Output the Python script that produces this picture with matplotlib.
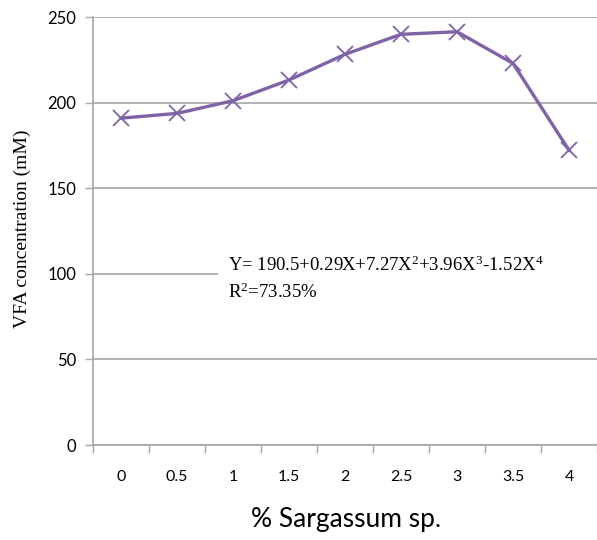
import matplotlib
matplotlib.use("Agg")
import matplotlib.pyplot as plt
from matplotlib.patches import Rectangle

# data
categories = ["0", "0.5", "1", "1.5", "2", "2.5", "3", "3.5", "4"]
vfa = [190.9, 193.7, 201.1, 213.2, 228.2, 239.9, 241.4, 222.9, 172.2]
yticks = [0, 50, 100, 150, 200, 250]

plt.rcParams['mathtext.fontset'] = 'custom'
plt.rcParams['mathtext.rm'] = 'Liberation Serif'
plt.rcParams['mathtext.it'] = 'Liberation Serif'

grid_col = '#a6a6a6'
purple = '#7f63a6'

fig = plt.figure(figsize=(5.97, 5.40), dpi=100)
ax = fig.add_axes([93/597, 1 - 445/540, 504/597, 428/540])

xs = list(range(len(categories)))
ax.plot(xs, vfa, color=purple, lw=2.4, marker='x', ms=11, mew=1.3,
        solid_joinstyle='round', zorder=3)

ax.set_xlim(-0.5, len(categories) - 0.5)
ax.set_ylim(0, 250)
ax.set_yticks(yticks)
ax.set_yticklabels([str(v) for v in yticks], family='Lato', fontsize=12)
ax.set_xticks(xs)
ax.set_xticklabels(categories, family='Lato', fontsize=11.5)
ax.tick_params(axis='x', which='major', length=0, pad=18)
ax.set_xticks([i - 0.5 for i in range(len(categories) + 1)], minor=True)
ax.tick_params(axis='x', which='minor', length=6, color=grid_col, width=1)
ax.tick_params(axis='y', length=6, color=grid_col, width=1, pad=6)

ax.yaxis.grid(True, color=grid_col, lw=1.2)
ax.set_axisbelow(True)
for s in ['top', 'right']:
    ax.spines[s].set_visible(False)
for s in ['left', 'bottom']:
    ax.spines[s].set_color(grid_col)
    ax.spines[s].set_linewidth(1.2)

# white box behind the equation
ax.add_patch(Rectangle((125/504, (445 - 305)/428), 1, 55/428,
                       transform=ax.transAxes, facecolor='white',
                       edgecolor='none', zorder=1.5, clip_on=False))
ax.text(135/504, (445 - 265)/428,
        "Y= 190.5+0.29X+7.27X$^{2}$+3.96X$^{3}$-1.52X$^{4}$",
        transform=ax.transAxes, family='Liberation Serif', fontsize=13.5,
        va='center', ha='left', zorder=2)
ax.text(135/504, (445 - 292)/428, "R$^{2}$=73.35%",
        transform=ax.transAxes, family='Liberation Serif', fontsize=13.5,
        va='center', ha='left', zorder=2)

fig.text(22/597, 1 - 229/540, "VFA concentration (mM)", rotation=90,
         family='Liberation Serif', fontsize=14, ha='center', va='center')
fig.text(346/597, 1 - 520/540, "% Sargassum sp.", family='Lato',
         fontsize=19, ha='center', va='center')

fig.savefig("out.png", dpi=100)
